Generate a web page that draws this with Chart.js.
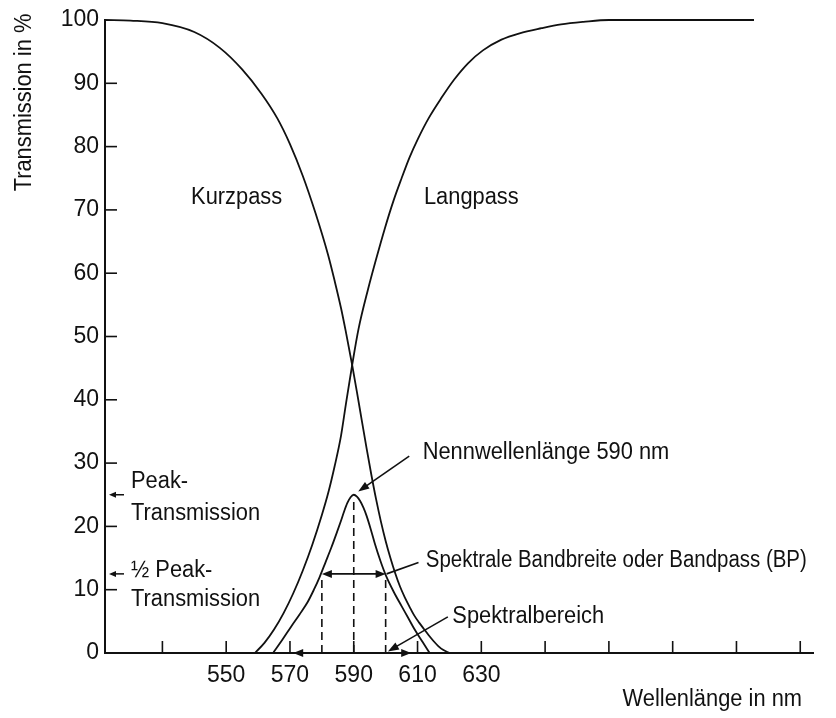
<!DOCTYPE html>
<html>
<head>
<meta charset="utf-8">
<script src="https://cdn.jsdelivr.net/npm/chart.js@4/dist/chart.umd.min.js"></script>
<style>
  html, body { margin: 0; padding: 0; background: #fff; }
  #wrap { width: 836px; height: 718px; }
</style>
</head>
<body>
<div id="wrap"><canvas id="c" width="836" height="718"></canvas></div>
<script>
// Transmission of a short-pass, a long-pass and the resulting band-pass filter

// Kurzpass (short-pass) curve: wavelength in nm / transmission in %
const kurzpassNm = [512, 520, 530, 540, 548, 555, 561, 566, 570, 574, 578, 582, 584, 586, 587.5, 589.5, 591, 592.5, 594, 595.5, 597, 598.5, 600, 601.5, 603, 604.5, 606, 607.5, 609, 610.5, 612, 613.5, 615, 616.5, 618, 620];
const kurzpassT  = [100, 99.9, 99.5, 98.1, 95.6, 92.2, 88.4, 84.5, 80.4, 75.4, 69.5, 62.8, 58.8, 54.5, 50.8, 45.5, 41.2, 36.8, 32.4, 28.2, 24.3, 20.8, 17.7, 15, 12.6, 10.5, 8.8, 7.3, 5.9, 4.8, 3.8, 2.8, 1.9, 1.1, 0.5, 0];

// Langpass (long-pass) curve
const langpassNm = [559, 562, 565, 568, 571, 574, 577, 580, 582, 584, 586, 587.5, 589.5, 591.5, 594.5, 597, 599.7, 602.5, 605, 607.5, 610.2, 613.5, 617.5, 621.5, 625.9, 630.5, 636.3, 642, 648.9, 655, 662, 670, 715.5];
const langpassT  = [0, 1.6, 3.7, 6.3, 9.4, 13, 17.1, 21.8, 25.3, 29.5, 34.3, 39.2, 45.5, 51.2, 57.5, 62.2, 67, 71.5, 75, 78.3, 81.3, 84.5, 87.7, 90.6, 93.2, 95.2, 96.9, 97.9, 98.7, 99.3, 99.7, 100, 100];

// Band-pass curve
const bandpassNm = [564.7, 567.5, 570.4, 573, 575.6, 577.5, 579.3, 581.2, 583, 584.6, 586, 587, 588, 589, 590, 591, 592, 593, 594, 595.3, 596.6, 598.4, 600.2, 602.6, 605, 607, 609.1, 611.5, 613.8];
const bandpassT  = [0, 2, 4.2, 6.1, 8.1, 10, 12, 14.4, 16.7, 18.9, 20.9, 22.4, 23.7, 24.6, 25, 24.7, 24, 23, 21.7, 19.6, 17.3, 14.5, 12.1, 9.6, 7.4, 5.6, 3.7, 1.8, 0];

// Characteristic values of the band-pass
const centerNm = 590;          // Nennwellenlänge
const peakT = 25;              // Peak-Transmission
const halfPeakT = peakT / 2;   // ½ Peak-Transmission
const bandEdgesNm = [580, 600];   // spectral bandwidth (FWHM)
const rangeEdgesNm = [571, 608];  // spectral range

// Axes
const xTicks = [530, 550, 570, 590, 610, 630, 650, 670, 690, 710, 730];
const xTickLabels = [550, 570, 590, 610, 630];
const yTicks = [0, 10, 20, 30, 40, 50, 60, 70, 80, 90, 100];
const xMin = 512, xMax = 734;

// Text annotations, anchored in data coordinates (wavelength, transmission)
const plotLabels = [
  { text: 'Kurzpass', nm: 539.0, t: 71.0 },
  { text: 'Langpass', nm: 612.0, t: 70.9 },
  { text: 'Nennwellenlänge 590 nm', nm: 611.6, t: 30.6 },
  { text: 'Spektrale Bandbreite oder Bandpass (BP)', nm: 612.6, t: 13.6, maxWidth: 381 },
  { text: 'Spektralbereich', nm: 620.9, t: 4.7 }
];
const sideLabels = [
  { text: 'Peak-', t: 26.0 },
  { text: 'Transmission', t: 21.0 },
  { text: '\u00BD Peak-', t: 12.05 },
  { text: 'Transmission', t: 7.45 }
];
// Leader lines [from, to] in data coordinates
const nennPointer = [[607.4, 31.1], [591.4, 25.5]];
const bandLeader = [[610.3, 14.3], [600.3, 12.5]];
const rangePointer = [[619.5, 5.7], [600.7, 0.25]];

const INK = '#111';
const FONT = '"Liberation Sans", Arial, sans-serif';
const FONT_PX = 23.5;
const SQUEEZE = 0.93;

function drawText(ctx, s, x, y, align, maxWidth) {
  ctx.save();
  ctx.translate(x, y);
  ctx.scale(SQUEEZE, 1);
  ctx.font = FONT_PX + 'px ' + FONT;
  ctx.textAlign = align || 'left';
  ctx.textBaseline = 'alphabetic';
  ctx.fillStyle = INK;
  if (maxWidth) ctx.fillText(s, 0, 0, maxWidth / SQUEEZE);
  else ctx.fillText(s, 0, 0);
  ctx.restore();
}

function arrowHead(ctx, x1, y1, x2, y2, len, half) {
  const a = Math.atan2(y2 - y1, x2 - x1);
  const c = Math.cos(a), s = Math.sin(a);
  ctx.beginPath();
  ctx.moveTo(x2, y2);
  ctx.lineTo(x2 - len * c + half * s, y2 - len * s - half * c);
  ctx.lineTo(x2 - len * c - half * s, y2 - len * s + half * c);
  ctx.closePath();
  ctx.fill();
}

function line(ctx, x1, y1, x2, y2) {
  ctx.beginPath();
  ctx.moveTo(x1, y1);
  ctx.lineTo(x2, y2);
  ctx.stroke();
}

const annotationPlugin = {
  id: 'filterAnnotations',
  afterDatasetsDraw(chart) {
    const ctx = chart.ctx;
    const xs = chart.scales.x, ys = chart.scales.y;
    const X = v => xs.getPixelForValue(v);
    const Y = v => ys.getPixelForValue(v);
    const left = xs.left, bottom = ys.bottom;

    ctx.save();
    ctx.strokeStyle = INK;
    ctx.fillStyle = INK;
    ctx.lineCap = 'butt';

    // inward tick marks
    ctx.lineWidth = 1.6;
    yTicks.forEach(v => {
      if (v === 0 || v === 100) return;
      line(ctx, left, Y(v), left + 12, Y(v));
    });
    xTicks.forEach(v => line(ctx, X(v), bottom, X(v), bottom - 12));

    // dashed verticals at the band edges and the centre wavelength
    ctx.lineWidth = 1.6;
    ctx.setLineDash([8, 5]);
    bandEdgesNm.forEach(nm => line(ctx, X(nm), bottom, X(nm), Y(halfPeakT) + 6));
    line(ctx, X(centerNm), bottom, X(centerNm), Y(peakT) + 4);
    ctx.setLineDash([]);

    // bandwidth double arrow at half peak
    ctx.lineWidth = 1.8;
    const yh = Y(halfPeakT);
    line(ctx, X(bandEdgesNm[0]) + 4, yh, X(bandEdgesNm[1]) - 4, yh);
    arrowHead(ctx, X(bandEdgesNm[1]), yh, X(bandEdgesNm[0]), yh, 10, 4);
    arrowHead(ctx, X(bandEdgesNm[0]), yh, X(bandEdgesNm[1]), yh, 10, 4);

    // spectral range double arrow along the axis
    const y0 = Y(0);
    line(ctx, X(rangeEdgesNm[0]) + 4, y0, X(rangeEdgesNm[1]) - 4, y0);
    arrowHead(ctx, X(rangeEdgesNm[1]), y0, X(rangeEdgesNm[0]), y0, 10, 4);
    arrowHead(ctx, X(rangeEdgesNm[0]), y0, X(rangeEdgesNm[1]), y0, 10, 4);

    // peak / half-peak markers on the y axis
    ctx.lineWidth = 1.5;
    [peakT, halfPeakT].forEach(v => {
      line(ctx, left + 19, Y(v), left + 8, Y(v));
      arrowHead(ctx, left + 19, Y(v), left + 4, Y(v), 7, 3);
    });

    // leader lines
    ctx.lineWidth = 1.6;
    const lead = (p, head) => {
      const x1 = X(p[0][0]), y1 = Y(p[0][1]), x2 = X(p[1][0]), y2 = Y(p[1][1]);
      if (head) {
        const a = Math.atan2(y2 - y1, x2 - x1);
        line(ctx, x1, y1, x2 - 6 * Math.cos(a), y2 - 6 * Math.sin(a));
        arrowHead(ctx, x1, y1, x2, y2, 11, 4);
      } else {
        line(ctx, x1, y1, x2, y2);
      }
    };
    lead(nennPointer, true);
    lead(bandLeader, false);
    lead(rangePointer, true);

    // texts in the plot
    plotLabels.forEach(l => drawText(ctx, l.text, X(l.nm), Y(l.t), 'left', l.maxWidth));
    sideLabels.forEach(l => drawText(ctx, l.text, left + 26, Y(l.t), 'left'));

    // axis titles
    ctx.save();
    ctx.translate(31, 102.5);
    ctx.rotate(-Math.PI / 2);
    drawText(ctx, 'Transmission in %', 0, 0, 'center');
    ctx.restore();
    drawText(ctx, 'Wellenlänge in nm', 802, 706, 'right');

    ctx.restore();
  }
};

const curveStyle = {
  borderColor: INK,
  borderWidth: 1.8,
  pointRadius: 0,
  fill: false,
  cubicInterpolationMode: 'monotone',
  clip: false
};

const toPoints = (xs, ys) => xs.map((x, i) => ({ x: x, y: ys[i] }));

new Chart(document.getElementById('c'), {
  type: 'line',
  data: {
    datasets: [
      Object.assign({ label: 'Kurzpass', data: toPoints(kurzpassNm, kurzpassT) }, curveStyle),
      Object.assign({ label: 'Langpass', data: toPoints(langpassNm, langpassT) }, curveStyle),
      Object.assign({ label: 'Bandpass', data: toPoints(bandpassNm, bandpassT) }, curveStyle)
    ]
  },
  options: {
    responsive: false,
    devicePixelRatio: 1,
    animation: false,
    events: [],
    layout: { padding: { top: 20, right: 23, left: 0, bottom: 0 } },
    plugins: { legend: { display: false }, tooltip: { enabled: false } },
    scales: {
      x: {
        type: 'linear',
        min: xMin,
        max: xMax,
        afterFit: s => { s.height = 65; },
        afterBuildTicks: s => { s.ticks = xTicks.map(v => ({ value: v })); },
        grid: { display: false, drawTicks: false },
        border: { display: true, color: INK, width: 2 },
        ticks: {
          autoSkip: false,
          maxRotation: 0,
          padding: 9,
          color: INK,
          font: { family: FONT, size: 23 },
          callback: v => (xTickLabels.includes(v) ? String(v) : '')
        }
      },
      y: {
        type: 'linear',
        min: 0,
        max: 100,
        afterFit: s => { s.width = 105; },
        afterBuildTicks: s => { s.ticks = yTicks.map(v => ({ value: v })); },
        grid: { display: false, drawTicks: false },
        border: { display: true, color: INK, width: 2 },
        ticks: {
          padding: 6,
          color: INK,
          font: { family: FONT, size: 23 }
        }
      }
    }
  },
  plugins: [annotationPlugin]
});
</script>
</body>
</html>
